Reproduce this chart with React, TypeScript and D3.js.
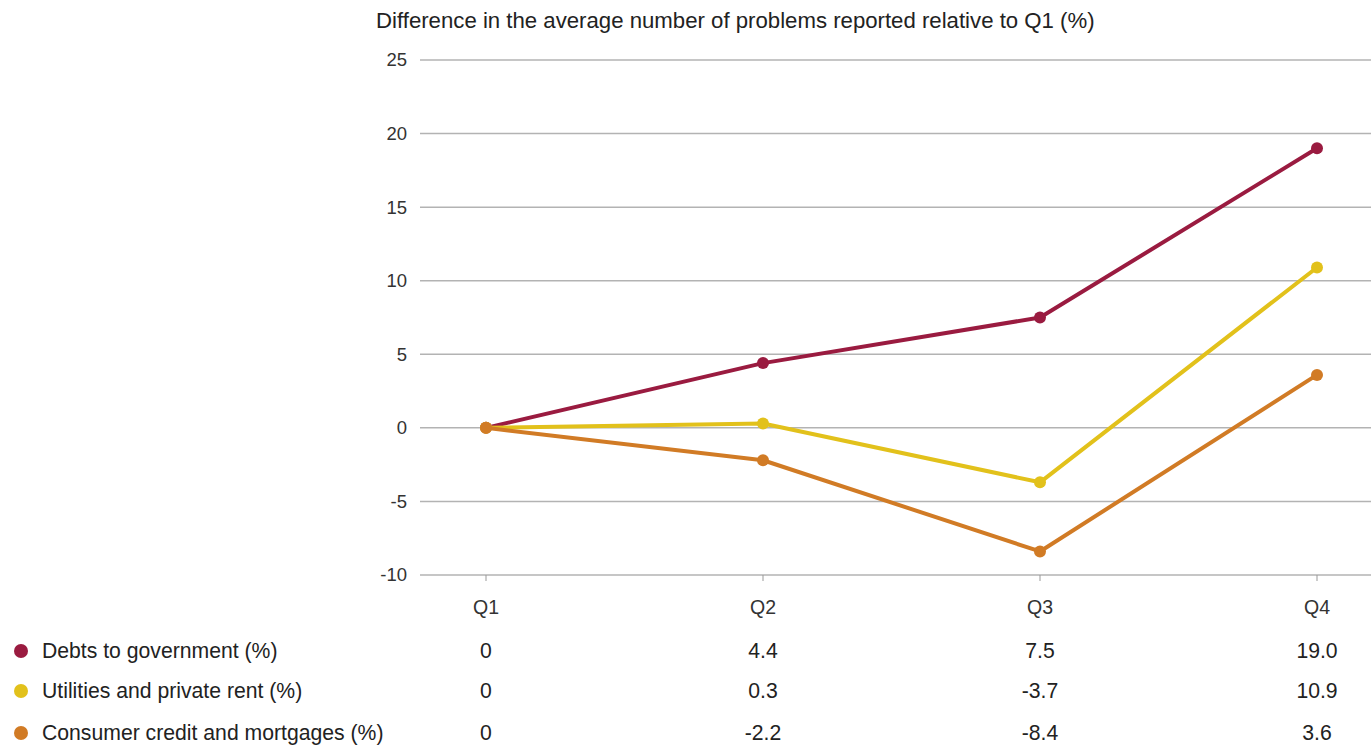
import React from "react";
import * as d3 from "d3";

const quarters = ["Q1", "Q2", "Q3", "Q4"];
const seriesNames = [
  "Debts to government (%)",
  "Utilities and private rent (%)",
  "Consumer credit and mortgages (%)",
];
const debtsValues = [0, 4.4, 7.5, 19.0];
const utilitiesValues = [0, 0.3, -3.7, 10.9];
const consumerValues = [0, -2.2, -8.4, 3.6];
const tableLabels = [
  ["0", "4.4", "7.5", "19.0"],
  ["0", "0.3", "-3.7", "10.9"],
  ["0", "-2.2", "-8.4", "3.6"],
];
const yTicks = [25, 20, 15, 10, 5, 0, -5, -10];
const colors = ["#9a1b40", "#e2c11b", "#d17b25"];
const title = "Difference in the average number of problems reported relative to Q1 (%)";

export default function App() {
  const W = 1371, H = 747;
  const font = "'Liberation Sans', Arial, Helvetica, sans-serif";
  const y = d3.scaleLinear().domain([-10, 25]).range([575, 60]);
  const x = d3.scalePoint().domain(quarters).range([486, 1317]);
  const series = [debtsValues, utilitiesValues, consumerValues];
  const line = d3.line<number>().x((_, i) => x(quarters[i])!).y((d) => y(d));
  const rowY = [651, 691, 733];

  return (
    <svg width={W} height={H} style={{ position: "absolute", left: 0, top: 0, background: "#fff" }} fontFamily={font}>
      <text x={376} y={20} dy="0.35em" fontSize={22.2} fill="#222">{title}</text>
      {yTicks.map((t) => (
        <g key={t}>
          <line x1={420} x2={1371} y1={y(t)} y2={y(t)} stroke="#b3b3b3" strokeWidth={1.5} />
          <text x={407} y={y(t)} dy="0.35em" textAnchor="end" fontSize={18.5} fill="#333">{t}</text>
        </g>
      ))}
      {quarters.map((q) => (
        <g key={q}>
          <line x1={x(q)} x2={x(q)} y1={575} y2={581} stroke="#999" strokeWidth={1} />
          <text x={x(q)} y={607} dy="0.35em" textAnchor="middle" fontSize={19.5} fill="#333">{q}</text>
        </g>
      ))}
      {series.map((s, si) => (
        <g key={si}>
          <path d={line(s) || ""} fill="none" stroke={colors[si]} strokeWidth={4} strokeLinejoin="round" />
          {s.map((v, i) => (
            <circle key={i} cx={x(quarters[i])} cy={y(v)} r={6} fill={colors[si]} />
          ))}
        </g>
      ))}
      {seriesNames.map((n, si) => (
        <g key={n}>
          <circle cx={21} cy={rowY[si]} r={7} fill={colors[si]} />
          <text x={42} y={rowY[si]} dy="0.35em" fontSize={21.2} fill="#222">{n}</text>
          {tableLabels[si].map((lab, i) => (
            <text key={i} x={x(quarters[i])} y={rowY[si]} dy="0.35em" textAnchor="middle" fontSize={21.2} fill="#222">{lab}</text>
          ))}
        </g>
      ))}
    </svg>
  );
}
